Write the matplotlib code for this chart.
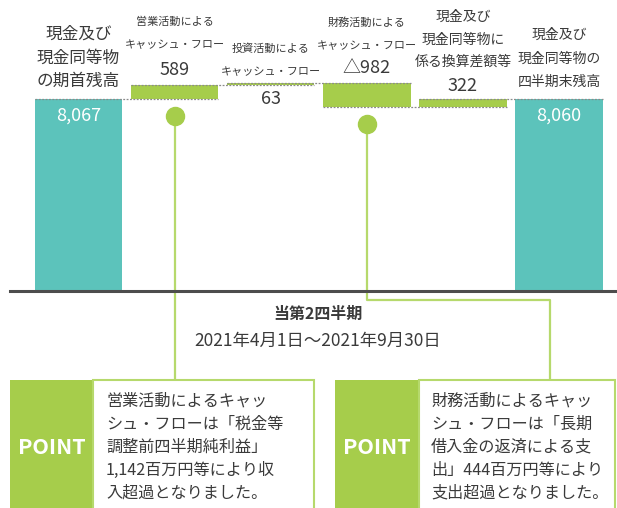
import numpy as np
import matplotlib.pyplot as plt
import matplotlib.transforms as mtransforms
from matplotlib.patches import Rectangle

plt.rcParams['font.family'] = ['Noto Sans CJK JP', 'DejaVu Sans']

# Cash and cash equivalents (百万円)
opening = 8067
closing = 8060
changes = [589, 63, -982, 322]
value_labels = ['8,067', '589', '63', '△982', '322', '8,060']
category_lines = [
    ['現金及び', '現金同等物', 'の期首残高'],
    ['営業活動による', 'キャッシュ・フロー'],
    ['投資活動による', 'キャッシュ・フロー'],
    ['財務活動による', 'キャッシュ・フロー'],
    ['現金及び', '現金同等物に', '係る換算差額等'],
    ['現金及び', '現金同等物の', '四半期末残高'],
]
period_title = '当第2四半期'
period_range = '2021年4月1日～2021年9月30日'
point_left = ['営業活動によるキャッ', 'シュ・フローは「税金等', '調整前四半期純利益」',
              '1,142百万円等により収', '入超過となりました。']
point_right = ['財務活動によるキャッ', 'シュ・フローは「長期', '借入金の返済による支',
               '出」444百万円等により', '支出超過となりました。']

TEAL = '#5cc3bb'
GREEN = '#a6cd4b'
LINE_GREEN = '#b6d96c'
TEXT = '#3a3a3a'

W, H = 617, 508
fig = plt.figure(figsize=(W / 100, H / 100), dpi=100)
ax = fig.add_axes([0, 0, 1, 1])
ax.axis('off')

# layout in pixels of the reference
x0_px, pitch = 78.5, 96.1      # centre of first bar, bar spacing
base_px, top_px = 291, 99      # row of zero, row of opening bar top
per_px = opening / (base_px - top_px)
ax.set_xlim(-x0_px / pitch, (W - x0_px) / pitch)
ax.set_ylim(-(H - base_px) * per_px, base_px * per_px)


def fx(x):
    return x / W


def fy(y):
    return 1 - y / H


trans = mtransforms.blended_transform_factory(ax.transData, fig.transFigure)
bw = 0.91

# waterfall bars
levels = np.cumsum([opening] + changes)
starts, ends = levels[:-1], levels[1:]
bottoms = np.minimum(starts, ends)
heights = np.abs(ends - starts)
ax.bar([0, 5], [opening, closing], width=bw, color=TEAL, zorder=2)
ax.bar(np.arange(1, 5), heights, bottom=bottoms, width=bw, color=GREEN, zorder=2)

# dashed level connectors
for i, lv in enumerate(levels):
    ax.hlines(lv, i - bw / 2, i + 1 + bw / 2, colors='#8a8a8a', lw=0.9,
              linestyles=(0, (1.5, 1.2)), zorder=3)

# baseline
ax.axhline(0, xmin=fx(10), xmax=1, color='#4d4d4d', lw=2.2, zorder=4)

# value labels
val_y = [116, 70, 99, 68, 86, 116]
for i, (txt, y) in enumerate(zip(value_labels, val_y)):
    c = 'white' if i in (0, 5) else TEXT
    ax.text(i, fy(y), txt, transform=trans, ha='center', va='center',
            fontsize=13, color=c, zorder=5)

# category labels
cat_y = [[34, 58, 81], [22, 45], [49, 72], [23, 46], [17, 40, 62], [35, 59, 82]]
cat_fs = [12, 8, 8, 8, 10, 10]
for i, lines in enumerate(category_lines):
    for txt, y in zip(lines, cat_y[i]):
        ax.text(i, fy(y), txt, transform=trans, ha='center', va='center',
                fontsize=cat_fs[i], color=TEXT)

# period caption
ax.text(fx(318), fy(314), period_title, transform=fig.transFigure, ha='center',
        va='center', fontsize=11.5, fontweight='bold', color=TEXT)
ax.text(fx(318), fy(341), period_range, transform=fig.transFigure, ha='center',
        va='center', fontsize=12.5, color=TEXT)

# leader lines from bars to notes
ax.plot([1, 1], [fy(116), fy(381)], color=LINE_GREEN, lw=1.6, transform=trans, zorder=1)
ax.plot([1], [fy(116)], 'o', ms=13, color=GREEN, transform=trans, zorder=6)

to_fig = ax.transData + fig.transFigure.inverted()
x3 = to_fig.transform((3, 0))[0]
ax.plot([x3, x3, fx(550), fx(550)], [fy(124), fy(300), fy(300), fy(381)],
        color=LINE_GREEN, lw=1.6, transform=fig.transFigure, zorder=1)
ax.plot([3], [fy(124)], 'o', ms=13, color=GREEN, transform=trans, zorder=6)


# POINT boxes
def point_box(x_left, x_split, x_right, lines, text_x):
    top, bottom = 380, 520
    fig.add_artist(Rectangle((fx(x_left), fy(bottom)), fx(x_split - x_left),
                             (bottom - top) / H, transform=fig.transFigure,
                             facecolor=GREEN, edgecolor='none'))
    fig.add_artist(Rectangle((fx(x_split), fy(bottom)), fx(x_right - x_split),
                             (bottom - top) / H, transform=fig.transFigure,
                             facecolor='white', edgecolor=LINE_GREEN, lw=1.5))
    fig.text(fx((x_left + x_split) / 2), fy(447), 'POINT', ha='center', va='center',
             fontsize=15.5, fontweight='bold', color='white',
             family=['Noto Sans CJK JP'])
    for k, txt in enumerate(lines):
        fig.text(fx(text_x), fy(401 + 23 * k), txt, ha='left', va='center',
                 fontsize=11.6, color=TEXT)


point_box(10, 93, 314, point_left, 106)
point_box(335, 419, 615, point_right, 431)

fig.savefig('out.png', dpi=100)
